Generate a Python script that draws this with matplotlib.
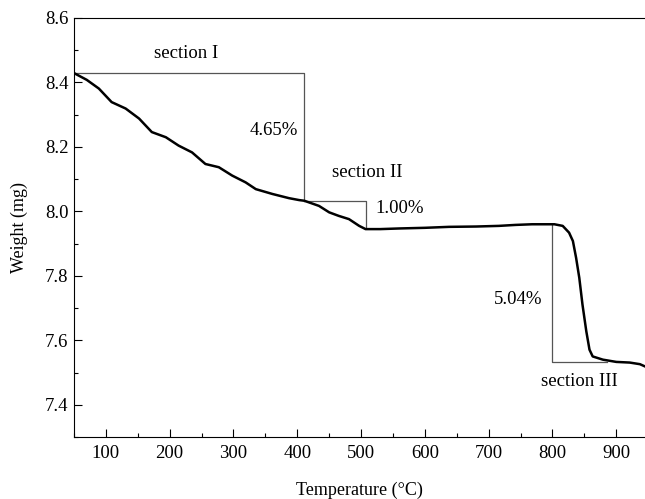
import matplotlib.pyplot as plt
from matplotlib.ticker import MultipleLocator

plt.rcParams['font.family'] = ['Liberation Serif', 'DejaVu Serif']

# TGA curve
temp = [50, 51, 70, 89, 109, 131, 152, 172, 194, 214, 235, 256, 277, 298, 319, 335,
        361, 387, 403, 411, 434, 450, 465, 481, 497, 507, 530, 560, 600, 638, 680, 716,
        742, 768, 803, 816, 826, 832, 837, 842, 847, 853, 858, 863, 879, 900, 921, 937, 945]
weight = [8.430, 8.428, 8.408, 8.381, 8.339, 8.319, 8.288, 8.246, 8.230, 8.204, 8.183,
          8.147, 8.137, 8.111, 8.090, 8.069, 8.054, 8.041, 8.035, 8.033, 8.017, 7.997,
          7.986, 7.976, 7.955, 7.945, 7.945, 7.947, 7.949, 7.952, 7.953, 7.955, 7.958,
          7.960, 7.960, 7.955, 7.934, 7.908, 7.856, 7.794, 7.711, 7.628, 7.571, 7.550,
          7.540, 7.533, 7.531, 7.526, 7.519]

# step brackets: (T_start, W_start, T_end, W_end)
sec1 = (50, 8.430, 411, 8.033)
sec2 = (411, 8.033, 507, 7.950)
sec3 = (800, 7.960, 885, 7.533)

labels = ['section I', '4.65%', 'section II', '1.00%', '5.04%', 'section III']
label_pos = [(225, 8.49), (363, 8.25), (509, 8.12), (560, 8.008), (746, 7.728), (842, 7.472)]

fig = plt.figure(figsize=(6.45, 4.99), dpi=100)
ax = fig.add_axes([0.1147, 0.1242, 0.8853, 0.8398])

ax.plot(temp, weight, color='black', lw=1.8, zorder=3)

box_color = '#555555'
for t0, w0, t1, w1 in [sec1, sec2]:
    ax.plot([t0, t1, t1], [w0, w0, w1], color=box_color, lw=0.9)
t0, w0, t1, w1 = sec3
ax.plot([t0, t0, t1], [w0, w1, w1], color=box_color, lw=0.9)

for txt, (x, y) in zip(labels, label_pos):
    ax.text(x, y, txt, ha='center', va='center', fontsize=13.5)

ax.set_xlim(50, 945)
ax.set_ylim(7.3, 8.6)
ax.xaxis.set_minor_locator(MultipleLocator(50))
ax.yaxis.set_major_locator(MultipleLocator(0.2))
ax.yaxis.set_minor_locator(MultipleLocator(0.1))
ax.set_xticks(range(100, 1000, 100))
ax.yaxis.set_major_formatter(plt.FormatStrFormatter('%.1f'))
ax.tick_params(which='major', direction='in', length=6, width=0.8, labelsize=13.5)
ax.tick_params(axis='x', which='major', pad=6)
ax.tick_params(axis='y', which='major', pad=4)
ax.tick_params(which='minor', direction='in', length=3, width=0.8)
ax.spines['right'].set_visible(False)

ax.set_xlabel('Temperature (°C)', fontsize=13, labelpad=14)
ax.set_ylabel('Weight (mg)', fontsize=13, labelpad=12)

fig.savefig('out.png', dpi=100)
